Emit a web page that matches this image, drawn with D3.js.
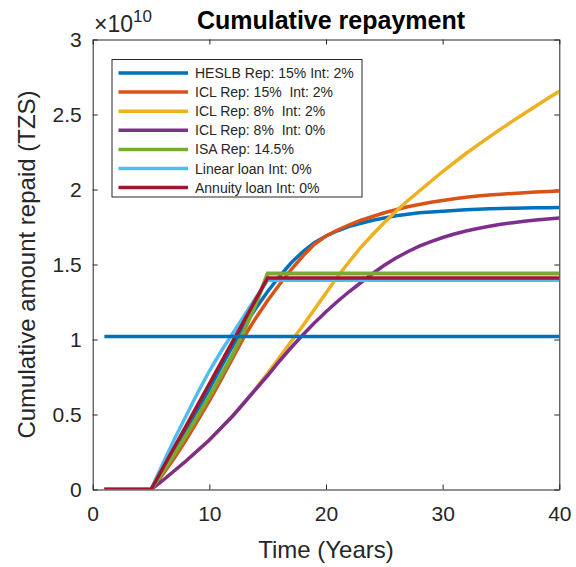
<!DOCTYPE html>
<html>
<head>
<meta charset="utf-8">
<script src="https://cdn.jsdelivr.net/npm/d3@7"></script>
<style>
  html, body { margin: 0; padding: 0; background: #fff; }
  svg { display: block; font-family: "Liberation Sans", Arial, sans-serif; }
  text { white-space: pre; }
</style>
</head>
<body>
<svg id="chart" width="576" height="567"></svg>
<script>
// Years since the start of the loan
const years = d3.range(1, 41);

// Cumulative repayment per scheme, in units of 10^10 TZS (years 1..40)
const heslbRep15Int2 = [0, 0, 0, 0, 0, 0.125, 0.255, 0.39, 0.53, 0.67, 0.815, 0.955, 1.09, 1.21, 1.32, 1.42, 1.51, 1.585, 1.645, 1.69,
  1.725, 1.755, 1.775, 1.795, 1.81, 1.825, 1.835, 1.845, 1.85, 1.855, 1.86, 1.865, 1.868, 1.871, 1.873, 1.875, 1.877, 1.878, 1.879, 1.88];
const iclRep15Int2 = [0, 0, 0, 0, 0, 0.1, 0.21, 0.33, 0.46, 0.59, 0.73, 0.875, 1.02, 1.145, 1.26, 1.365, 1.465, 1.555, 1.635, 1.69,
  1.73, 1.765, 1.795, 1.82, 1.845, 1.865, 1.885, 1.9, 1.915, 1.927, 1.938, 1.948, 1.956, 1.963, 1.969, 1.974, 1.979, 1.983, 1.987, 1.99];
const iclRep8Int2 = [0, 0, 0, 0, 0, 0.06, 0.125, 0.19, 0.26, 0.33, 0.41, 0.49, 0.58, 0.675, 0.775, 0.88, 0.985, 1.09, 1.2, 1.31,
  1.42, 1.52, 1.615, 1.7, 1.78, 1.855, 1.925, 1.99, 2.055, 2.12, 2.18, 2.24, 2.296, 2.351, 2.404, 2.456, 2.507, 2.557, 2.606, 2.655];
const iclRep8Int0 = [0, 0, 0, 0, 0, 0.06, 0.125, 0.19, 0.26, 0.33, 0.41, 0.49, 0.58, 0.67, 0.76, 0.855, 0.945, 1.03, 1.11, 1.185,
  1.255, 1.32, 1.38, 1.44, 1.495, 1.543, 1.585, 1.622, 1.653, 1.68, 1.703, 1.723, 1.74, 1.755, 1.768, 1.779, 1.789, 1.797, 1.804, 1.81];
const isaRep145 = [0, 0, 0, 0, 0, 0.115, 0.235, 0.36, 0.49, 0.62, 0.76, 0.9, 1.06, 1.24, 1.44, 1.44, 1.44, 1.44, 1.44, 1.44,
  1.44, 1.44, 1.44, 1.44, 1.44, 1.44, 1.44, 1.44, 1.44, 1.44, 1.44, 1.44, 1.44, 1.44, 1.44, 1.44, 1.44, 1.44, 1.44, 1.44];
const linearLoanInt0 = [0, 0, 0, 0, 0, 0.17, 0.335, 0.49, 0.645, 0.79, 0.92, 1.04, 1.16, 1.28, 1.395, 1.395, 1.395, 1.395, 1.395, 1.395,
  1.395, 1.395, 1.395, 1.395, 1.395, 1.395, 1.395, 1.395, 1.395, 1.395, 1.395, 1.395, 1.395, 1.395, 1.395, 1.395, 1.395, 1.395, 1.395, 1.395];
const annuityLoanInt0 = [0, 0, 0, 0, 0, 0.141, 0.282, 0.423, 0.564, 0.705, 0.846, 0.987, 1.128, 1.269, 1.41, 1.41, 1.41, 1.41, 1.41, 1.41,
  1.41, 1.41, 1.41, 1.41, 1.41, 1.41, 1.41, 1.41, 1.41, 1.41, 1.41, 1.41, 1.41, 1.41, 1.41, 1.41, 1.41, 1.41, 1.41, 1.41];
// Amount borrowed, drawn as a horizontal reference line
const loanAmount = 1.02;

const seriesNames = [
  "HESLB Rep: 15% Int: 2%",
  "ICL Rep: 15%  Int: 2%",
  "ICL Rep: 8%  Int: 2%",
  "ICL Rep: 8%  Int: 0%",
  "ISA Rep: 14.5%",
  "Linear loan Int: 0%",
  "Annuity loan Int: 0%"
];
const seriesValues = [heslbRep15Int2, iclRep15Int2, iclRep8Int2, iclRep8Int0, isaRep145, linearLoanInt0, annuityLoanInt0];
const seriesColors = ["#0072BD", "#D95319", "#EDB120", "#7E2F8E", "#77AC30", "#4DBEEE", "#A2142F"];

const xTicks = [0, 10, 20, 30, 40];
const yTicks = [0, 0.5, 1, 1.5, 2, 2.5, 3];
const yTickLabels = ["0", "0.5", "1", "1.5", "2", "2.5", "3"];
const exponent = "10";

const chartTitle = "Cumulative repayment";
const xTitle = "Time (Years)";
const yTitle = "Cumulative amount repaid (TZS)";

const axisColor = "#262626";
const plot = { left: 92.7, right: 559.3, top: 39.5, bottom: 489.5 };

const svg = d3.select("#chart");

const x = d3.scaleLinear().domain([0, 40]).range([plot.left, plot.right]);
const y = d3.scaleLinear().domain([0, 3]).range([plot.bottom, plot.top]);

svg.append("defs").append("clipPath").attr("id", "plot-clip")
  .append("rect")
  .attr("x", plot.left).attr("y", plot.top - 3)
  .attr("width", plot.right - plot.left).attr("height", plot.bottom - plot.top + 3);

// Axes with inward ticks on all four sides (boxed)
const tickLen = 5;
const gx = svg.append("g").attr("transform", `translate(0,${plot.bottom})`)
  .call(d3.axisBottom(x).tickValues(xTicks).tickSizeInner(-tickLen).tickSizeOuter(0).tickPadding(17));
const gxTop = svg.append("g").attr("transform", `translate(0,${plot.top})`)
  .call(d3.axisTop(x).tickValues(xTicks).tickSizeInner(-tickLen).tickSizeOuter(0).tickFormat(""));
const gy = svg.append("g").attr("transform", `translate(${plot.left},0)`)
  .call(d3.axisLeft(y).tickValues(yTicks).tickSizeInner(-tickLen).tickSizeOuter(0).tickPadding(11)
    .tickFormat((d, i) => yTickLabels[i]));
const gyRight = svg.append("g").attr("transform", `translate(${plot.right},0)`)
  .call(d3.axisRight(y).tickValues(yTicks).tickSizeInner(-tickLen).tickSizeOuter(0).tickFormat(""));

[gx, gxTop, gy, gyRight].forEach(g => {
  g.select(".domain").attr("stroke", axisColor).attr("stroke-width", 1);
  g.selectAll(".tick line").attr("stroke", axisColor).attr("stroke-width", 1);
  g.selectAll(".tick text").attr("fill", axisColor)
    .style("font-size", "21px").style("font-family", "'Liberation Sans', Arial, sans-serif");
});

// Series lines
const line = d3.line()
  .x((d, i) => x(years[i]))
  .y(d => y(d));

const lines = svg.append("g").attr("clip-path", "url(#plot-clip)");
seriesValues.forEach((vals, k) => {
  lines.append("path")
    .datum(vals)
    .attr("d", line)
    .attr("fill", "none")
    .attr("stroke", seriesColors[k])
    .attr("stroke-width", k === 4 ? 4 : 3.5)
    .attr("stroke-linejoin", "miter");
});
// Horizontal reference at the borrowed amount
lines.append("path")
  .datum(years.map(() => loanAmount))
  .attr("d", line)
  .attr("fill", "none")
  .attr("stroke", seriesColors[0])
  .attr("stroke-width", 3.5);

// Exponent label
const expText = svg.append("text")
  .attr("x", 94).attr("y", 32)
  .attr("fill", axisColor)
  .style("font-size", "23px");
expText.append("tspan").style("font-weight", "300").text("\u00D7");
expText.append("tspan").text("10");
expText.append("tspan").attr("dy", -10).style("font-size", "17px").text(exponent);

// Title
svg.append("text")
  .attr("x", 331).attr("y", 29)
  .attr("text-anchor", "middle")
  .attr("fill", "#000")
  .style("font-size", "25px").style("font-weight", "bold")
  .text(chartTitle);

// Axis titles
svg.append("text")
  .attr("x", (plot.left + plot.right) / 2).attr("y", 558)
  .attr("text-anchor", "middle")
  .attr("fill", axisColor)
  .style("font-size", "24px")
  .text(xTitle);

svg.append("text")
  .attr("transform", `translate(35,${(plot.top + plot.bottom) / 2}) rotate(-90)`)
  .attr("text-anchor", "middle")
  .attr("fill", axisColor)
  .style("font-size", "24px")
  .text(yTitle);

// Legend
const legend = { left: 112, top: 59.5, width: 250, height: 137.5, rowH: 19.1, firstRow: 73 };
const lg = svg.append("g");
lg.append("rect")
  .attr("x", legend.left).attr("y", legend.top)
  .attr("width", legend.width).attr("height", legend.height)
  .attr("fill", "#fff").attr("stroke", axisColor).attr("stroke-width", 1);
seriesNames.forEach((name, k) => {
  const cy = legend.firstRow + k * legend.rowH;
  lg.append("line")
    .attr("x1", legend.left + 6.5).attr("x2", legend.left + 76)
    .attr("y1", cy).attr("y2", cy)
    .attr("stroke", seriesColors[k]).attr("stroke-width", 3.5);
  lg.append("text")
    .attr("x", legend.left + 83).attr("y", cy + 5)
    .attr("fill", axisColor)
    .style("font-size", "14px")
    .text(name);
});
</script>
</body>
</html>
